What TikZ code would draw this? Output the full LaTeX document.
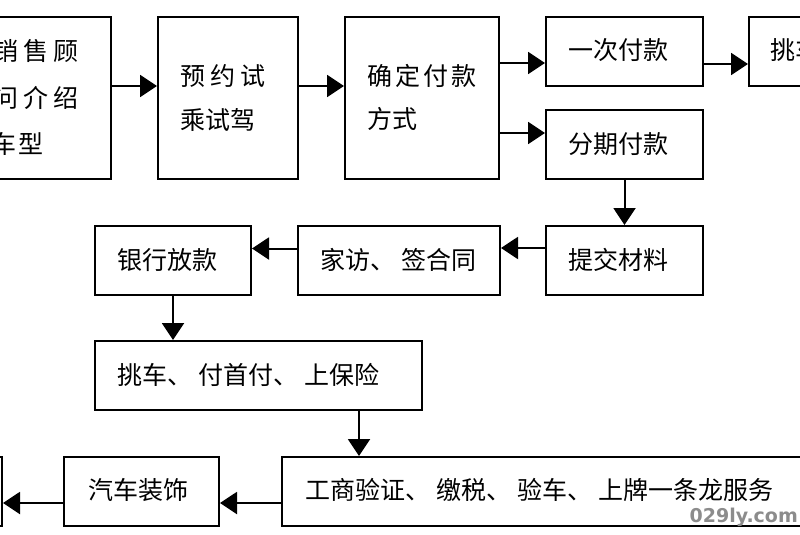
\documentclass[tikz,border=0pt]{standalone}
\usepackage{fontspec}
\newfontfamily\cjk{Noto Sans CJK SC}
\newfontfamily\wmfont{DejaVu Sans}
\usetikzlibrary{arrows.meta}
\begin{document}
\begin{tikzpicture}[x=1pt,y=-1pt,
  box/.style={draw=black, line width=2pt, rectangle, inner sep=0pt, anchor=north west},
  lbl/.style={anchor=west, inner sep=0pt, font=\cjk\fontsize{25}{30}\selectfont, text=black},
  arr/.style={draw=black, line width=2pt, -{Triangle[length=17pt,width=22pt]}},
  wm/.style={anchor=east, inner sep=0pt, font=\wmfont\bfseries\fontsize{19}{22}\selectfont, text=black!45}]
\useasboundingbox (0,0) rectangle (800,535);
\fill[white] (0,0) rectangle (800,535);
\clip (0,0) rectangle (800,535);
% boxes (top row)
\node[box, minimum width=170pt, minimum height=162pt] (b1) at (-60,16) {};
\node[box, minimum width=140pt, minimum height=162pt] (b2) at (157,16) {};
\node[box, minimum width=154pt, minimum height=162pt] (b3) at (344,16) {};
\node[box, minimum width=157pt, minimum height=69pt] (b4) at (545,16) {};
\node[box, minimum width=112pt, minimum height=69pt] (b5) at (748,16) {};
\node[box, minimum width=157pt, minimum height=69pt] (b6) at (545,109) {};
% middle row
\node[box, minimum width=157pt, minimum height=69pt] (b7) at (545,225) {};
\node[box, minimum width=202pt, minimum height=69pt] (b8) at (297,225) {};
\node[box, minimum width=156pt, minimum height=69pt] (b9) at (94,225) {};
\node[box, minimum width=327pt, minimum height=69pt] (b10) at (94,340) {};
% bottom row
\node[box, minimum width=579pt, minimum height=69pt] (b11) at (281,456) {};
\node[box, minimum width=155pt, minimum height=69pt] (b12) at (63,456) {};
\node[box, minimum width=101pt, minimum height=69pt] (b13) at (-100,456) {};
% texts
\node[lbl] (t1a) at (-7,51) {销\hspace{5pt}售\hspace{5pt}顾};
\node[lbl] (t1b) at (-7,98) {问\hspace{5pt}介\hspace{5pt}绍};
\node[lbl] (t1c) at (-9,144) {车\hspace{2pt}型};
\node[lbl] (t2a) at (180,76) {预\hspace{5pt}约\hspace{5pt}试};
\node[lbl] (t2b) at (180,120) {乘试驾};
\node[lbl] (t3a) at (367,76) {确\hspace{3pt}定\hspace{3pt}付\hspace{3pt}款};
\node[lbl] (t3b) at (367,119) {方式};
\node[lbl] (t4) at (568,50) {一次付款};
\node[lbl] (t5) at (770,50) {挑车};
\node[lbl] (t6) at (568,144) {分期付款};
\node[lbl] (t7) at (568,260) {提交材料};
\node[lbl] (t8) at (320,260) {家访、\hspace{6pt}签合同};
\node[lbl] (t9) at (117,260) {银行放款};
\node[lbl] (t10) at (117,375) {挑车、\hspace{6pt}付首付、\hspace{6pt}上保险};
\node[lbl] (t11) at (305,490) {工商验证、\hspace{6pt}缴税、\hspace{6pt}验车、\hspace{6pt}上牌一条龙服务};
\node[lbl] (t12) at (88,490) {汽车装饰};
\node[wm] (wm) at (798,517) {029ly.com};
% connectors
\draw[arr] ([yshift=12pt]b1.east) -- ([yshift=12pt]b2.west);
\draw[arr] ([yshift=12pt]b2.east) -- ([yshift=12pt]b3.west);
\draw[arr] ([yshift=-11.5pt]b4.west -| b3.east) -- ([yshift=-11.5pt]b4.west);
\draw[arr] ([yshift=11.5pt]b6.west -| b3.east) -- ([yshift=11.5pt]b6.west);
\draw[arr] ([yshift=-12.5pt]b4.east) -- ([yshift=-12.5pt]b4.east -| b5.west);
\draw[arr] (b6.south) -- (b6.south |- b7.north);
\draw[arr] ([yshift=12.5pt]b7.west) -- ([yshift=12.5pt]b7.west -| b8.east);
\draw[arr] ([yshift=12pt]b8.west) -- ([yshift=12pt]b8.west -| b9.east);
\draw[arr] (b9.south) -- (b9.south |- b10.north);
\coordinate (c1) at (359,0);
\draw[arr] (b10.south -| c1) -- (b11.north -| c1);
\draw[arr] ([yshift=-11.5pt]b11.west) -- ([yshift=-11.5pt]b11.west -| b12.east);
\draw[arr] ([yshift=-11.5pt]b12.west) -- ([yshift=-11.5pt]b12.west -| b13.east);
\end{tikzpicture}
\end{document}
